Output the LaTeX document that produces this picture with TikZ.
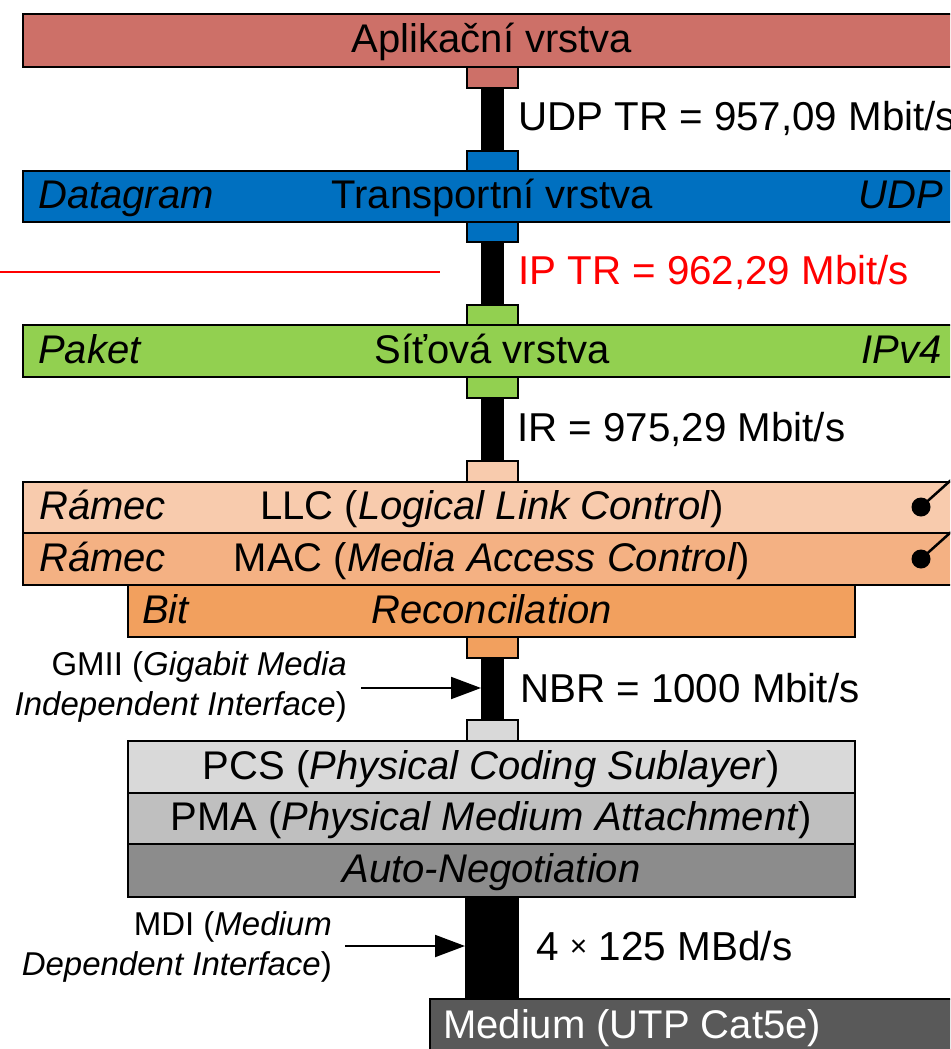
\documentclass[tikz,border=0pt]{standalone}
\usepackage{fontspec}
\setmainfont{Liberation Sans}
\usetikzlibrary{arrows.meta}
\definecolor{appcol}{HTML}{CD7068}
\definecolor{transcol}{HTML}{0070C0}
\definecolor{netcol}{HTML}{92D050}
\definecolor{llccol}{HTML}{F8CBAD}
\definecolor{maccol}{HTML}{F4B183}
\definecolor{reccol}{HTML}{F2A05E}
\definecolor{pcscol}{HTML}{D9D9D9}
\definecolor{pmacol}{HTML}{BFBFBF}
\definecolor{ancol}{HTML}{8C8C8C}
\definecolor{medcol}{HTML}{595959}
\definecolor{ratered}{HTML}{FF0000}

\begin{document}
\begin{tikzpicture}[x=1pt,y=-1pt,
  layerbox/.style={draw=black, line width=2pt, inner sep=0pt, anchor=north,
    text height=29pt, text depth=5pt, font=\fontsize{40}{48}\selectfont},
  widebox/.style={layerbox, minimum width=938pt},
  narrowbox/.style={layerbox, minimum width=727pt},
  tabbox/.style={draw=black, line width=2pt, inner sep=0pt, anchor=north,
    minimum width=51pt, minimum height=20pt},
  sidetext/.style={inner sep=0pt, text height=29pt, text depth=5pt,
    font=\fontsize{40}{48}\selectfont\itshape},
  ratetext/.style={inner sep=0pt, anchor=west, text height=29pt, text depth=0pt,
    font=\fontsize{40.3}{48}\selectfont},
  notetext/.style={inner sep=0pt, anchor=east, align=right,
    font=\fontsize{33}{40}\selectfont},
  databar/.style={line width=23pt, draw=black},
  pointer/.style={line width=2pt, -{Triangle[length=30pt,width=22pt]}},
  dotmark/.style={circle, fill=black, inner sep=0pt, minimum size=19pt},
  switchline/.style={line width=2.5pt},
  cutline/.style={line width=2pt, draw=ratered},
]
\useasboundingbox (0,0) rectangle (950,1049);
\clip (0,0) rectangle (950,1049);

% layer stack
\node[widebox, fill=appcol, minimum height=53pt] (app) at (492,13) {Aplikační vrstva};
\node[tabbox, fill=appcol, minimum height=21pt] (apptab) at (492,66) {};

\node[tabbox, fill=transcol] (trtabA) at (492,150) {};
\node[widebox, fill=transcol, minimum height=51pt] (transport) at (492,170) {Transportní vrstva};
\node[tabbox, fill=transcol] (trtabB) at (492,221) {};

\node[tabbox, fill=netcol] (nettabA) at (492,304) {};
\node[widebox, fill=netcol, minimum height=52pt] (network) at (492,324) {Síťová vrstva};
\node[tabbox, fill=netcol, minimum height=21pt] (nettabB) at (492,376) {};

\node[tabbox, fill=llccol, minimum height=21pt] (llctab) at (492,460) {};
\node[widebox, fill=llccol, minimum height=51pt] (llc) at (492,481) {LLC (\textit{Logical Link Control})};
\node[widebox, fill=maccol, minimum height=52pt] (mac) at (492,532) {MAC (\textit{Media Access Control})};
\node[narrowbox, fill=reccol, minimum height=52pt] (recon) at (491.5,584) {\textit{Reconcilation}};
\node[tabbox, fill=reccol, minimum height=21pt] (rectab) at (492,636) {};

\node[tabbox, fill=pcscol, minimum height=21pt] (pcstab) at (492,719) {};
\node[narrowbox, fill=pcscol, minimum height=52pt] (pcs) at (491.5,740) {PCS (\textit{Physical Coding Sublayer})};
\node[narrowbox, fill=pmacol, minimum height=51pt] (pma) at (491.5,792) {PMA (\textit{Physical Medium Attachment})};
\node[narrowbox, fill=ancol, minimum height=53pt] (autoneg) at (491.5,843) {\textit{Auto-Negotiation}};

\node[draw=black, line width=2pt, fill=medcol, inner sep=0pt, anchor=north west,
  minimum width=560pt, minimum height=70pt] (medium) at (429,998) {};
\node[ratetext, font=\fontsize{40}{48}\selectfont, text=white] (mediumtext) at (443,1024) {Medium (UTP Cat5e)};

% side labels
\node[sidetext, anchor=west] (dgram) at ([xshift=16pt]transport.west) {Datagram};
\node[sidetext, anchor=east] (udp) at ([xshift=-19pt]transport.east) {UDP};
\node[sidetext, anchor=west] (paket) at ([xshift=16pt]network.west) {Paket};
\node[sidetext, anchor=east] (ipv4) at ([xshift=-20pt]network.east) {IPv4};
\node[sidetext, anchor=west] (llcframe) at ([xshift=17pt]llc.west) {Rámec};
\node[sidetext, anchor=west] (macframe) at ([xshift=17pt]mac.west) {Rámec};
\node[sidetext, anchor=west] (bit) at ([xshift=15pt]recon.west) {Bit};

% switch marks
\node[dotmark] (llcdot) at (921,507) {};
\coordinate (llcfree) at (960,472);
\draw[switchline] (llcdot.center) -- (llcfree);
\node[dotmark] (macdot) at (921,559) {};
\coordinate (macfree) at (960,524);
\draw[switchline] (macdot.center) -- (macfree);

% data paths between layers
\draw[databar] (apptab.south) -- (trtabA.north);
\draw[databar] (trtabB.south) -- (nettabA.north);
\draw[databar] (nettabB.south) -- (llctab.north);
\draw[databar] (rectab.south) -- (pcstab.north);
\draw[databar, line width=54pt] (autoneg.south) -- (autoneg.south |- medium.north);

% rates
\node[ratetext] (udptr) at (518,116) {UDP TR = 957,09 Mbit/s};
\node[ratetext, text=ratered] (iptr) at (518,270) {IP TR = 962,29 Mbit/s};
\node[ratetext] (ir) at (517,427) {IR = 975,29 Mbit/s};
\node[ratetext] (nbr) at (520,688) {NBR = 1000 Mbit/s};
\node[ratetext, font=\fontsize{40.5}{48}\selectfont] (baud) at (536,946)
  {4 \raisebox{4pt}{\fontsize{30}{30}\selectfont ×} 125 MBd/s};

% red marker line
\coordinate (cutA) at (0,272);
\coordinate (cutB) at (440,272);
\draw[cutline] (cutA) -- (cutB);

% interface notes
\node[notetext] (gmii) at (347,687) {GMII (\textit{Gigabit Media}\\\textit{Independent Interface})};
\coordinate (gmiiTail) at (361,688);
\coordinate (gmiiTip) at (481,688);
\draw[pointer] (gmiiTail) -- (gmiiTip);

\node[notetext] (mdi) at (332,947) {MDI (\textit{Medium}\\\textit{Dependent Interface})};
\coordinate (mdiTail) at (345,946);
\coordinate (mdiTip) at (465,946);
\draw[pointer] (mdiTail) -- (mdiTip);
\end{tikzpicture}
\end{document}
